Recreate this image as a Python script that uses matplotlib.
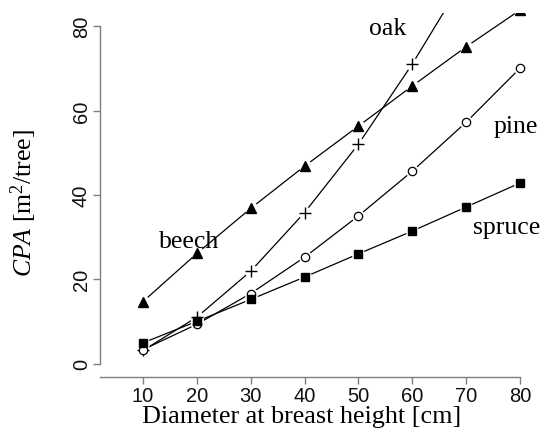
import matplotlib
matplotlib.use("Agg")
import matplotlib.pyplot as plt

# Crown projection area by diameter class for four tree species
dbh = [10, 20, 30, 40, 50, 60, 70, 80]
beech = [14.7, 26.1, 36.8, 46.8, 56.3, 65.8, 75.1, 83.8]
oak = [3.1, 11.0, 21.9, 35.8, 52.0, 71.0, 92.0, 116.0]
pine = [3.3, 9.3, 16.6, 25.2, 35.0, 45.6, 57.2, 70.0]
spruce = [4.9, 10.0, 15.2, 20.5, 26.0, 31.4, 37.1, 42.8]

x_ticks = [10, 20, 30, 40, 50, 60, 70, 80]
y_ticks = [0, 20, 40, 60, 80]

plt.rcParams['mathtext.fontset'] = 'custom'
plt.rcParams['mathtext.rm'] = 'Liberation Serif'
plt.rcParams['mathtext.it'] = 'Liberation Serif:italic'

W, H = 542, 435
fig = plt.figure(figsize=(W / 100, H / 100), dpi=100)
ax = fig.add_axes([100 / W, (H - 378) / H, 436 / W, (378 - 13.7) / H])
ax.set_xlim(2, 83)
ax.set_ylim(-3.2, 83.2)

series = [
    (beech, dict(marker='^', ms=7.5, mfc='black', mec='black')),
    (oak, dict(marker='+', ms=9, mew=1.0, mec='black')),
    (pine, dict(marker='o', ms=6, mfc='white', mec='black', mew=0.9)),
    (spruce, dict(marker='s', ms=5.8, mfc='black', mec='black')),
]
for vals, style in series:
    ax.plot(dbh, vals, color='black', lw=0.9, zorder=2)
for vals, style in series:
    ax.plot(dbh, vals, ls='none', marker='o', ms=9.5, mfc='white', mec='none', zorder=3)
for vals, style in series:
    ax.plot(dbh, vals, ls='none', zorder=4, **style)

axis_gray = '#7f7f7f'
for s in ('top', 'right'):
    ax.spines[s].set_visible(False)
ax.spines['left'].set_bounds(0, 80)
ax.spines['bottom'].set_bounds(2, 80)
for s in ('left', 'bottom'):
    ax.spines[s].set_color(axis_gray)
    ax.spines[s].set_linewidth(1.0)

ax.set_xticks(x_ticks)
ax.set_yticks(y_ticks)
ax.tick_params(direction='out', length=5, width=1.0, color=axis_gray,
               labelsize=14.5, labelcolor='#111111')
ax.tick_params(axis='x', pad=1.5)
ax.tick_params(axis='y', pad=1.5)
for lab in ax.get_xticklabels() + ax.get_yticklabels():
    lab.set_fontfamily('Liberation Sans')
for lab in ax.get_yticklabels():
    lab.set_rotation(90)
    lab.set_va('center')

serif = 'Liberation Serif'
def ftext(x, y, s, **kw):
    fig.text(x / W, 1 - y / H, s, family=serif, ha='center', va='center', **kw)

ftext(302, 417, 'Diameter at breast height [cm]', fontsize=18.8)
ftext(24, 203, r'$\it{CPA}$ [m$^2$/tree]', fontsize=18.5, rotation=90)

ftext(388, 29, 'oak', fontsize=18.5)
ftext(189, 242, 'beech', fontsize=18.5)
ftext(516, 127, 'pine', fontsize=18.5)
ftext(507, 228, 'spruce', fontsize=18.5)

fig.savefig('out.png', dpi=100)
